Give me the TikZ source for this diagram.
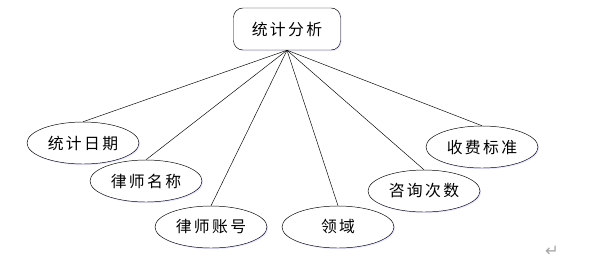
\documentclass[tikz,border=0pt]{standalone}
\usepackage{fontspec}
\newfontfamily\cjk[LetterSpace=15]{Noto Sans CJK SC}
\newfontfamily\symfont{DejaVu Sans}
\usepackage{tikz}
\usetikzlibrary{shapes.geometric,shadows}

\begin{document}
\begin{tikzpicture}[x=0.03cm, y=-0.03cm,
    attr/.style={draw, ellipse, thin, fill=white, inner sep=0pt,
        minimum width=3.36cm, minimum height=1.26cm,
        drop shadow={shadow xshift=1pt, shadow yshift=-1pt, fill=blue!15, opacity=0.6},
        font=\cjk\fontsize{13.5}{16}\selectfont},
    entity/.style={draw, rectangle, rounded corners=8pt, thin, fill=white,
        minimum width=3.21cm, minimum height=1.26cm, inner sep=0pt,
        drop shadow={shadow xshift=1pt, shadow yshift=-1pt, fill=blue!15, opacity=0.6},
        font=\cjk\fontsize{13.5}{16}\selectfont},
    link/.style={thin}]
    \useasboundingbox (0,0) rectangle (596,266);

    % Entity
    \node[entity] (stat) at (287, 29) {统计分析};

    % Attributes
    \node[attr] (date)    at (83, 143)  {统计日期};
    \node[attr] (lname)   at (146, 181) {律师名称};
    \node[attr] (laccnt)  at (211, 227) {律师账号};
    \node[attr] (field)   at (338, 227) {领域};
    \node[attr] (consult) at (424, 191) {咨询次数};
    \node[attr] (fee)     at (482, 147) {收费标准};

    % Links
    \foreach \a in {date, lname, laccnt, field, consult, fee}
        \draw[link] (stat.south) -- (\a.north);

    % paragraph mark
    \node[gray!70, font=\symfont\fontsize{14}{16}\selectfont] (mark) at (552, 251) {↵};
\end{tikzpicture}
\end{document}
